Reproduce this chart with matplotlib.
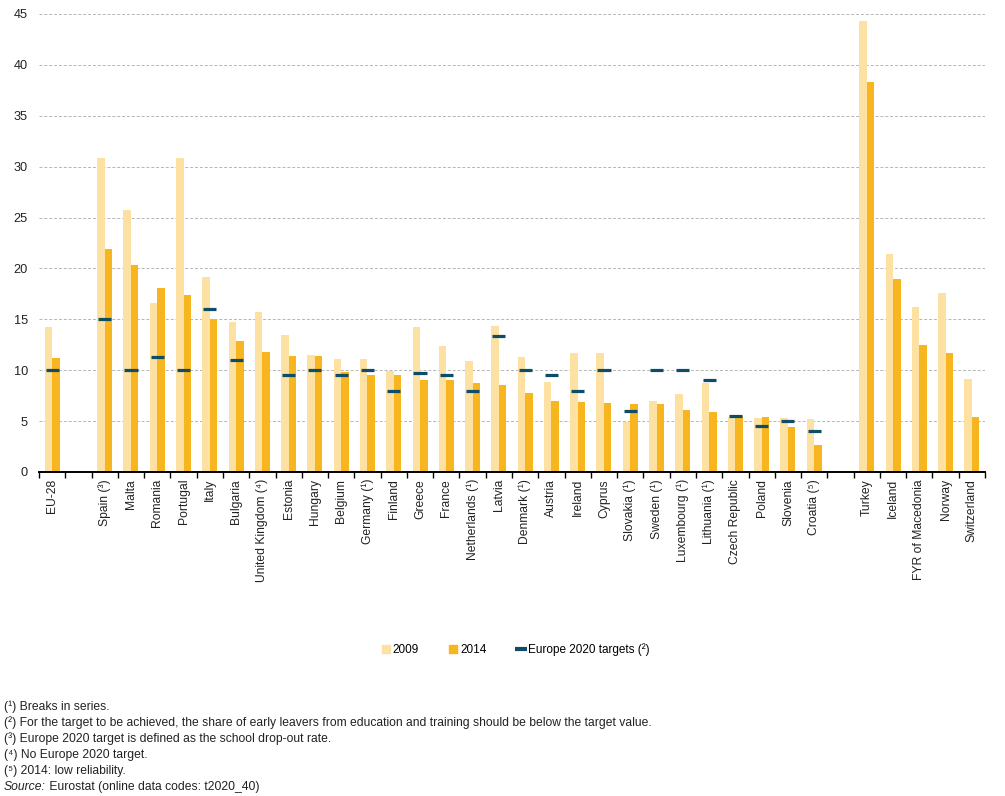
import matplotlib
matplotlib.use("Agg")
import matplotlib.pyplot as plt
from matplotlib.lines import Line2D
import numpy as np

plt.rcParams['font.family'] = ['Liberation Sans', 'DejaVu Sans']

# ---- data ----
categories = ["EU-28", None,
              "Spain (³)", "Malta", "Romania", "Portugal", "Italy", "Bulgaria",
              "United Kingdom (⁴)", "Estonia", "Hungary", "Belgium", "Germany (¹)",
              "Finland", "Greece", "France", "Netherlands (¹)", "Latvia",
              "Denmark (¹)", "Austria", "Ireland", "Cyprus", "Slovakia (¹)",
              "Sweden (¹)", "Luxembourg (¹)", "Lithuania (¹)", "Czech Republic",
              "Poland", "Slovenia", "Croatia (⁵)", None,
              "Turkey", "Iceland", "FYR of Macedonia", "Norway", "Switzerland"]

v2009 = [14.2, None,
         30.9, 25.7, 16.6, 30.9, 19.2, 14.7, 15.7, 13.5, 11.5, 11.1, 11.1,
         9.9, 14.2, 12.4, 10.9, 14.3, 11.3, 8.8, 11.7, 11.7, 4.9, 7.0, 7.7,
         8.7, 5.4, 5.3, 5.3, 5.2, None,
         44.3, 21.4, 16.2, 17.6, 9.1]

v2014 = [11.2, None,
         21.9, 20.3, 18.1, 17.4, 15.0, 12.9, 11.8, 11.4, 11.4, 9.8, 9.5,
         9.5, 9.0, 9.0, 8.7, 8.5, 7.8, 7.0, 6.9, 6.8, 6.7, 6.7, 6.1,
         5.9, 5.5, 5.4, 4.4, 2.7, None,
         38.3, 19.0, 12.5, 11.7, 5.4]

targets = [10.0, None,
           15.0, 10.0, 11.3, 10.0, 16.0, 11.0, None, 9.5, 10.0, 9.5, 10.0,
           8.0, 9.7, 9.5, 8.0, 13.4, 10.0, 9.5, 8.0, 10.0, 6.0, 10.0, 10.0,
           9.0, 5.5, 4.5, 5.0, 4.0, None,
           None, None, None, None, None]

yticks = [0, 5, 10, 15, 20, 25, 30, 35, 40, 45]

footnotes = ["(¹) Breaks in series.",
             "(²) For the target to be achieved, the share of early leavers from education and training should be below the target value.",
             "(³) Europe 2020 target is defined as the school drop-out rate.",
             "(⁴) No Europe 2020 target.",
             "(⁵) 2014: low reliability."]

c2009 = '#FCE1A3'
c2014 = '#F7B51F'
ctarget = '#0F4C68'

def arr(v):
    return np.array([np.nan if a is None else a for a in v], dtype=float)

a09, a14, atg = arr(v2009), arr(v2014), arr(targets)
x = np.arange(len(categories))

fig = plt.figure(figsize=(10.05, 7.96), dpi=100)
ax = fig.add_axes([39/1005, 1 - 472/796, (985-39)/1005, (472-14)/796])

bw = 0.285
ax.bar(x - bw/2, np.nan_to_num(a09), width=bw, color=c2009, zorder=2, linewidth=0)
ax.bar(x + bw/2, np.nan_to_num(a14), width=bw, color=c2014, zorder=2, linewidth=0)
m = ~np.isnan(atg)
ax.hlines(atg[m], x[m] - 0.25, x[m] + 0.25, color=ctarget, linewidth=2.3, zorder=3)

ax.set_xlim(-0.5, len(categories) - 0.5)
ax.set_ylim(0, 45)
ax.set_yticks(yticks)
ax.set_yticklabels([str(t) for t in yticks], fontsize=9.2, color='#222222')
ax.tick_params(axis='y', length=0, pad=8)
ax.yaxis.grid(True, linestyle=(0, (3, 2)), color='#b5b5b5', linewidth=0.7, zorder=0)
ax.set_axisbelow(True)

ax.set_xticks(x)
ax.set_xticklabels([c if c else "" for c in categories], rotation=90, fontsize=8.7, color='#222222')
ax.tick_params(axis='x', which='major', length=0, pad=5)
ax.set_xticks(np.arange(-0.5, len(categories)), minor=True)
ax.tick_params(axis='x', which='minor', length=4, width=1, direction='out', color='black')

for s in ['top', 'right', 'left']:
    ax.spines[s].set_visible(False)
ax.spines['bottom'].set_linewidth(1.4)
ax.spines['bottom'].set_color('black')

handles = [Line2D([], [], marker='s', linestyle='none', color=c2009, markersize=6),
           Line2D([], [], marker='s', linestyle='none', color=c2014, markersize=6),
           Line2D([], [], marker='_', linestyle='none', color=ctarget, markersize=8, markeredgewidth=3)]
fig.legend(handles, ['2009', '2014', 'Europe 2020 targets (²)'], loc='center', ncol=3,
           bbox_to_anchor=(516/1005, 1 - 650/796), frameon=False, fontsize=8.5,
           handlelength=0.6, handletextpad=0.3, columnspacing=2.6)

y0 = 707
for i, t in enumerate(footnotes):
    fig.text(4/1005, 1 - (y0 + 16*i)/796, t, fontsize=8.7, va='center', ha='left',
             color='#222222')
src = fig.text(4/1005, 1 - (y0 + 16*5)/796, "Source:", fontsize=8.7, va='center', ha='left',
               style='italic', color='#222222')
ax.annotate(" Eurostat (online data codes: t2020_40)", xy=(1, 0.5), xycoords=src,
            va='center', ha='left', fontsize=8.7, color='#222222')

fig.savefig("out.png", dpi=100)
